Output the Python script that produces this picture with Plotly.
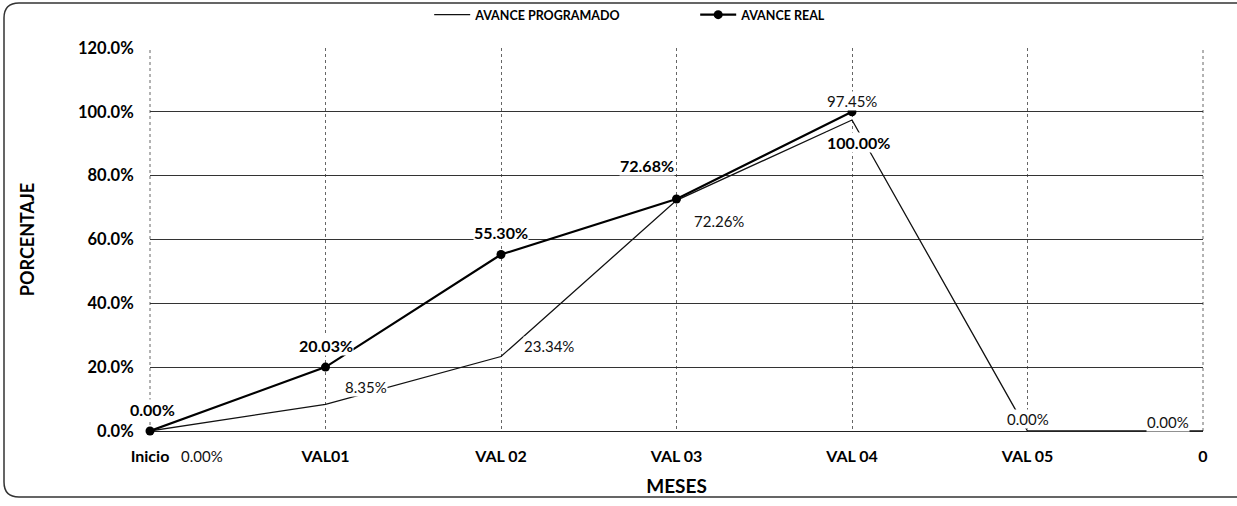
import plotly.graph_objects as go

categories = ["Inicio", "VAL01", "VAL 02", "VAL 03", "VAL 04", "VAL 05", "0"]
programado = [0.00, 8.35, 23.34, 72.26, 97.45, 0.00, 0.00]
real = [0.00, 20.03, 55.30, 72.68, 100.00]

# label offsets in pixels (style, not data)
prog_shift = [(52, -25), (40, 17), (48, 11), (42, -21), (0, 19), (0, 12), (-35, 9)]
real_shift = [(2, 22), (0, 22), (0, 22), (-30, 34), (6, -31)]

FONT = "Lato, 'Open Sans', sans-serif"

fig = go.Figure()
fig.add_trace(go.Scatter(
    x=categories, y=programado, name="AVANCE PROGRAMADO",
    mode="lines", line=dict(color="#111111", width=1.3),
    cliponaxis=False,
))
fig.add_trace(go.Scatter(
    x=categories[:len(real)], y=real, name="AVANCE REAL",
    mode="lines+markers", line=dict(color="#000000", width=2.2),
    marker=dict(color="#000000", size=9),
    cliponaxis=False,
))

annotations = []
for i, (val, (dx, dy)) in enumerate(zip(programado, prog_shift)):
    annotations.append(dict(x=i, y=val, xref="x", yref="y", text=f"{val:.2f}%",
                            showarrow=False, xshift=dx, yshift=dy,
                            bgcolor="white", borderpad=0,
                            font=dict(family=FONT, size=15, color="#111111")))
for i, (val, (dx, dy)) in enumerate(zip(real, real_shift)):
    annotations.append(dict(x=i, y=val, xref="x", yref="y", text=f"<b>{val:.2f}%</b>",
                            showarrow=False, xshift=dx, yshift=dy,
                            bgcolor="white", borderpad=0,
                            font=dict(family=FONT, size=16, color="#000000")))

# plot area in px: x 150..1203, y 48..431
L, R, T, B = 150, 1203, 48, 431
W, H = R - L, B - T
def px(x): return (x - L) / W
def py(y): return (B - y) / H
x0, x1, y0, y1 = px(4), px(1237), py(3), py(497)
rx, ry = 15 / W, 15 / H
path = (f"M {x0+rx},{y0} L {x1},{y0} "
        f"M {x1},{y1} L {x0+rx},{y1} "
        f"Q {x0},{y1} {x0},{y1+ry} L {x0},{y0-ry} Q {x0},{y0} {x0+rx},{y0}")

edge_grid = dict(type="line", yref="paper", y0=0, y1=1, xref="paper",
                 line=dict(color="#666666", width=1, dash="3px,3px"), layer="below")

fig.update_layout(
    width=1237, height=506,
    margin=dict(l=L, r=1237 - R, t=T, b=506 - B, autoexpand=False),
    paper_bgcolor="white", plot_bgcolor="white",
    font=dict(family=FONT, color="#000000"),
    showlegend=True,
    legend=dict(orientation="h", x=0.562, xref="container", xanchor="center",
                y=1 - 15 / 506, yref="container", yanchor="middle",
                font=dict(family=FONT, size=12.5, color="#000000", weight="bold"),
                bgcolor="rgba(0,0,0,0)", itemwidth=36, entrywidth=215),
    annotations=annotations,
    shapes=[dict(type="path", path=path, xref="paper", yref="paper",
                 line=dict(color="#333333", width=1.5), layer="below"),
            dict(edge_grid, x0=0, x1=0),
            dict(edge_grid, x0=1, x1=1)],
)
fig.update_xaxes(
    type="category", range=[0, 6],
    showgrid=True, gridcolor="#666666", griddash="3px,3px", gridwidth=1,
    showline=False, zeroline=False,
    tickfont=dict(family=FONT, size=16, color="#000000", weight="bold"),
    title=dict(text="MESES", font=dict(family=FONT, size=19, color="#000000", weight="bold"), standoff=15),
    ticks="outside", ticklen=11, tickcolor="rgba(0,0,0,0)",
)
fig.update_yaxes(
    range=[0, 120], dtick=20, tickformat=".1f", ticksuffix="%",
    showgrid=True, gridcolor="#333333", gridwidth=1,
    zeroline=True, zerolinecolor="#222222", zerolinewidth=1.2,
    showline=False,
    tickfont=dict(family=FONT, size=16.5, color="#000000", weight="bold"),
    title=dict(text="PORCENTAJE", font=dict(family=FONT, size=18, color="#000000", weight="bold"), standoff=38),
    ticks="outside", ticklen=12, tickcolor="rgba(0,0,0,0)",
)

fig.write_html("out.html", config={"displayModeBar": False},
               post_script="document.body.style.margin='0';")
